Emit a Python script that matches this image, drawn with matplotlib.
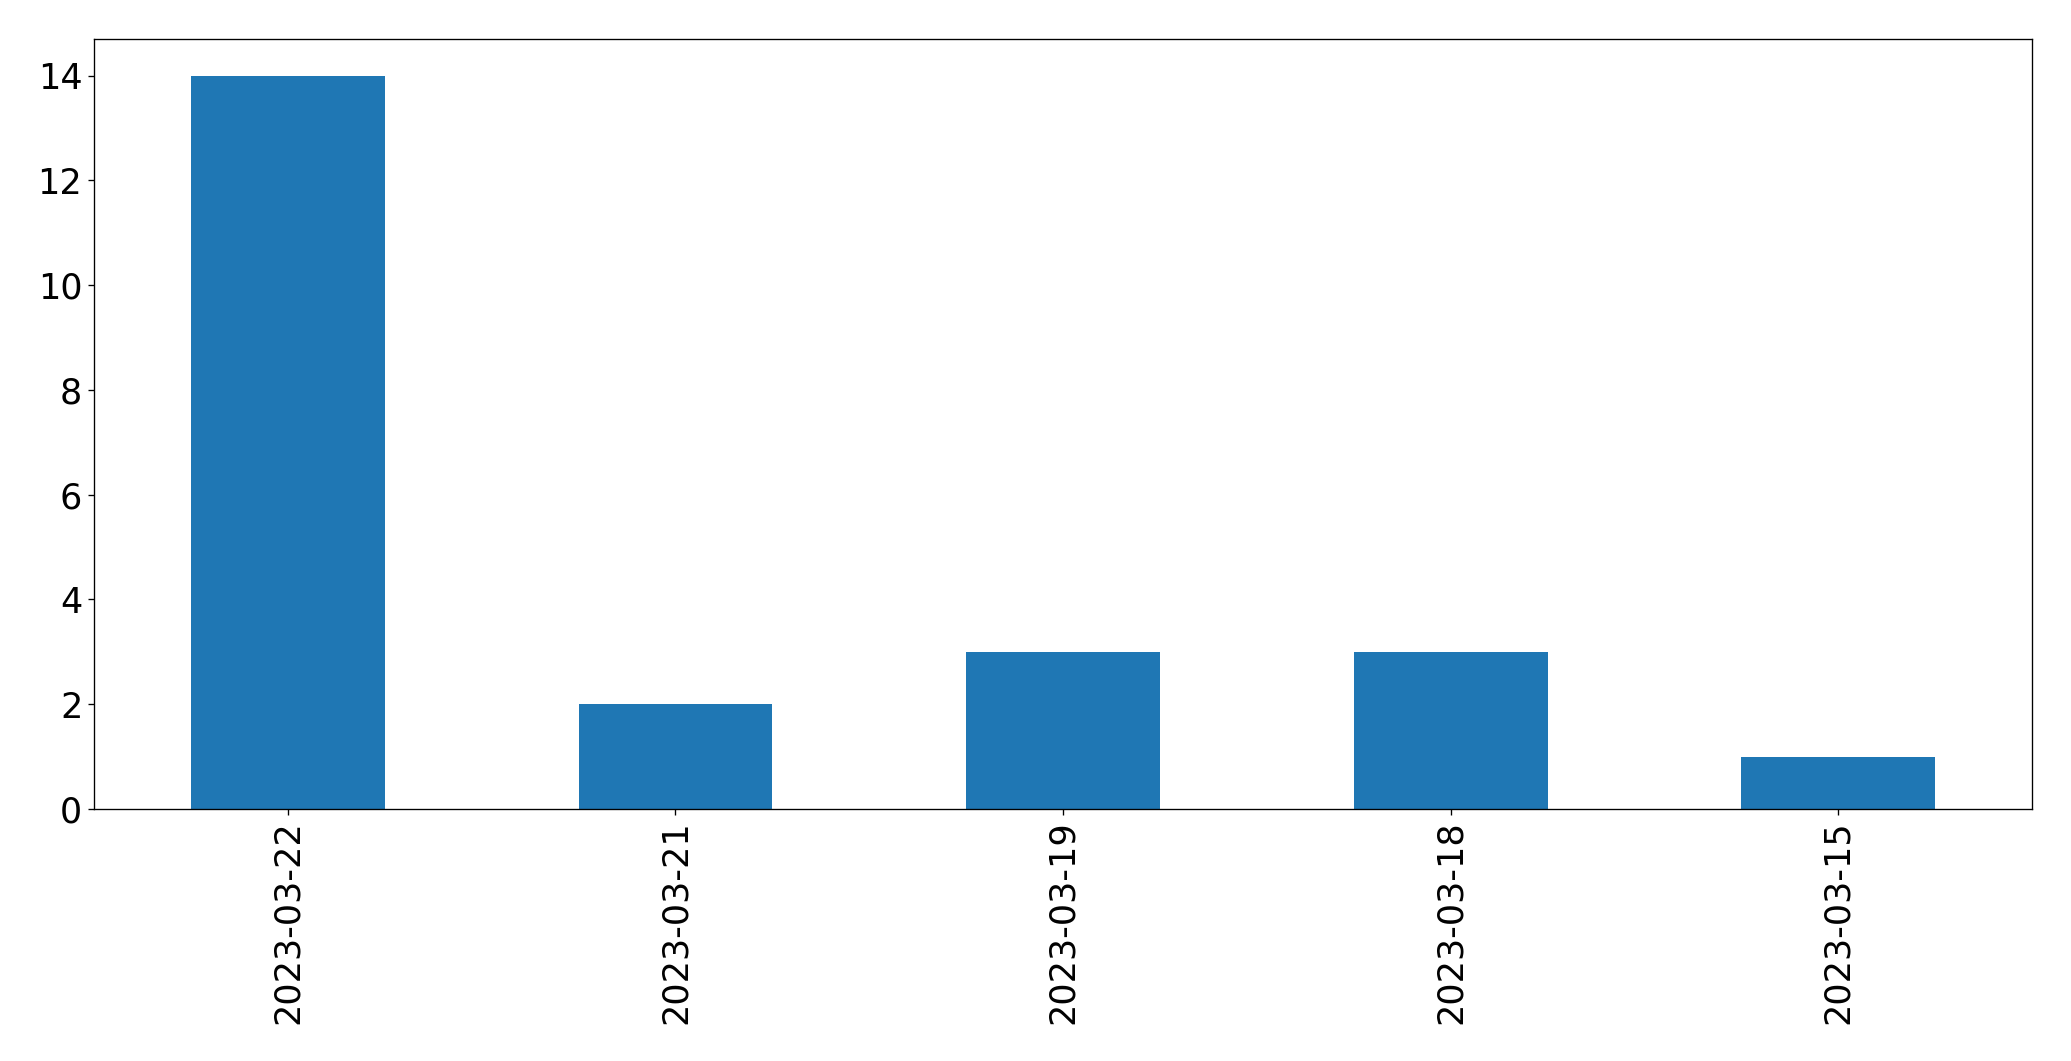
import matplotlib
matplotlib.use("Agg")
import matplotlib.pyplot as plt
import pandas as pd

dates = ["2023-03-22", "2023-03-21", "2023-03-19", "2023-03-18", "2023-03-15"]
counts = [14, 2, 3, 3, 1]

DPI = 120
fig = plt.figure(figsize=(2071 / DPI, 1061 / DPI), dpi=DPI)
ax = fig.add_axes([94 / 2071, 1 - 809 / 1061, (2032 - 94) / 2071, (809 - 39) / 1061])

s = pd.Series(counts, index=dates)
s.plot(kind="bar", ax=ax, color="#1f77b4")

for label in (ax.get_xticklabels() + ax.get_yticklabels()):
    label.set_fontsize(21)

fig.savefig("out.png", dpi=DPI)
